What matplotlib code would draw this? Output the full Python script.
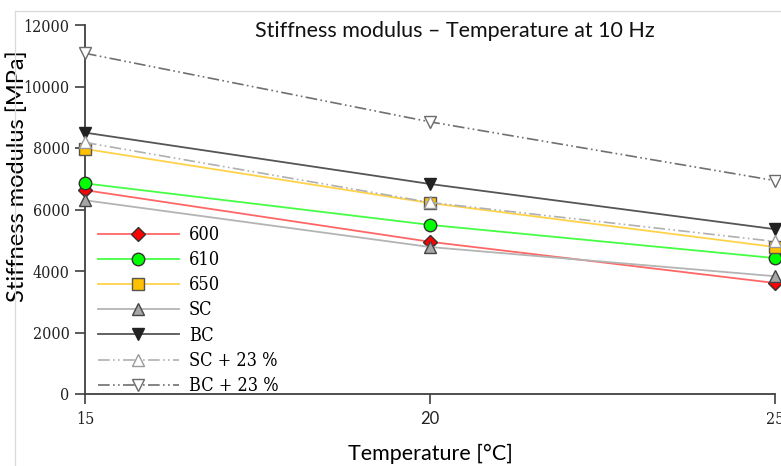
import matplotlib
matplotlib.use("Agg")
import matplotlib.pyplot as plt
from matplotlib.lines import Line2D
from matplotlib import font_manager

# Data: stiffness modulus [MPa] at 10 Hz
temperatures = [15, 20, 25]
s600 = [6630, 4950, 3610]
s610 = [6850, 5500, 4420]
s650 = [7970, 6210, 4780]
sc = [6300, 4780, 3830]
bc = [8500, 6830, 5360]
sc_23 = [8180, 6230, 4960]
bc_23 = [11080, 8850, 6940]

labels = ["600", "610", "650", "SC", "BC", "SC + 23 %", "BC + 23 %"]
x_tick_labels = ["15", "20", "25"]
y_ticks = [0, 2000, 4000, 6000, 8000, 10000, 12000]

# narrow serif face for numbers and legend, if available
cond = [f for f in font_manager.fontManager.ttflist
        if f.name == "DejaVu Serif" and "ondensed" in f.fname and "Bold" not in f.fname
        and "Italic" not in f.fname]
if cond:
    serif_prop = dict(fname=cond[0].fname)
else:
    serif_prop = dict(family="Liberation Serif")

W, H = 781, 466
fig = plt.figure(figsize=(W / 100, H / 100), dpi=100)

# light outer frame
fig.add_artist(Line2D([15 / W, 1.0], [1 - 11 / H, 1 - 11 / H], color="#d9d9d9", lw=0.9))
fig.add_artist(Line2D([15 / W, 15 / W], [0, 1 - 11 / H], color="#d9d9d9", lw=0.9))

ax = fig.add_axes([85 / W, 1 - 394 / H, (775 - 85) / W, (394 - 25) / H])

dash_dot_dot = (0, (7, 2, 1, 2, 1, 2))
styles = [
    dict(data=s600, color="#ff6666", marker="D", mfc="#ff0000", mec="#333333", ms=7, ls="-", lw=1.3),
    dict(data=s610, color="#44ff44", marker="o", mfc="#00ff00", mec="#333333", ms=9, ls="-", lw=1.3),
    dict(data=s650, color="#ffd24a", marker="s", mfc="#ffc000", mec="#555555", ms=9, ls="-", lw=1.3),
    dict(data=sc, color="#b4b4b4", marker="^", mfc="#a6a6a6", mec="#444444", ms=9, ls="-", lw=1.3),
    dict(data=bc, color="#555555", marker="v", mfc="#222222", mec="#222222", ms=9, ls="-", lw=1.3),
    dict(data=sc_23, color="#b0b0b0", marker="^", mfc="white", mec="#9a9a9a", ms=9, ls=dash_dot_dot, lw=1.2),
    dict(data=bc_23, color="#707070", marker="v", mfc="white", mec="#6a6a6a", ms=9, ls=dash_dot_dot, lw=1.2),
]

handles = []
for lab, st in zip(labels, styles):
    h, = ax.plot(temperatures, st["data"], color=st["color"], ls=st["ls"], lw=st["lw"],
                 marker=st["marker"], ms=st["ms"], mfc=st["mfc"], mec=st["mec"], mew=1.0,
                 label=lab, clip_on=False, zorder=3)
    handles.append(h)

ax.set_xlim(15, 25)
ax.set_ylim(0, 12000)
ax.set_xticks(temperatures)
ax.set_xticklabels(x_tick_labels)
ax.set_yticks(y_ticks)
ax.set_yticklabels([str(v) for v in y_ticks])

for side in ("top", "right"):
    ax.spines[side].set_visible(False)
for side in ("left", "bottom"):
    ax.spines[side].set_color("#404040")
    ax.spines[side].set_linewidth(1.3)

ax.tick_params(axis="both", direction="out", length=7, width=1.2, color="#404040")
ax.tick_params(axis="y", pad=4)
ax.tick_params(axis="x", pad=5)
tick_font = font_manager.FontProperties(size=11.5, **serif_prop)
for t in ax.get_yticklabels():
    t.set_fontproperties(tick_font)
    t.set_color("#222222")
for i, t in enumerate(ax.get_xticklabels()):
    if i == 1:
        t.set_fontproperties(font_manager.FontProperties(family="Lato", size=12))
    else:
        t.set_fontproperties(tick_font)
    t.set_color("#222222")

ax.set_xlabel("Temperature [°C]", fontfamily="Lato", fontsize=15.5, labelpad=12)
ax.set_ylabel("Stiffness modulus [MPa]", fontfamily="Lato", fontsize=17)
ax.yaxis.set_label_coords(-0.098, 0.59)
ax.yaxis.label.set_va("center")

fig.text(455 / W, 1 - 31 / H, "Stiffness modulus – Temperature at 10 Hz",
         fontfamily="Lato", fontsize=15.5, ha="center", va="center", color="#111111")

leg = ax.legend(handles=handles, loc="upper left", bbox_to_anchor=(0.0, 0.49),
                frameon=False, prop=font_manager.FontProperties(size=13, **serif_prop),
                handlelength=4.5, handletextpad=0.55, labelspacing=0.4, borderaxespad=0.3)

fig.savefig("out.png", dpi=100)
